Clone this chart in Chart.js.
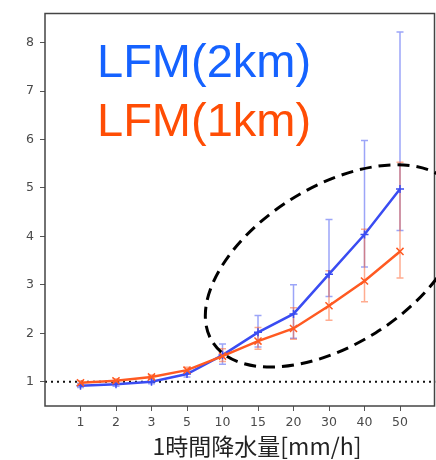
<!DOCTYPE html>
<html>
<head>
<meta charset="utf-8">
<script src="https://cdn.jsdelivr.net/npm/chart.js@4/dist/chart.umd.min.js"></script>
<style>
  html, body { margin: 0; padding: 0; background: #fff; overflow: hidden; }
  #wrap { width: 436px; height: 460px; overflow: hidden; }
</style>
</head>
<body>
<div id="wrap"><canvas id="rainChart" width="442" height="460"></canvas></div>
<script>
// rainfall classes (mm/h), drawn at index 1..10
const categories = ["1", "2", "3", "5", "10", "15", "20", "30", "40", "50"];
const yTicks = [1, 2, 3, 4, 5, 6, 7, 8];

// LFM(2km)
const blueMean = [0.92, 0.95, 1.0, 1.16, 1.55, 2.02, 2.4, 3.22, 4.04, 4.98];
const blueLow  = [0.88, 0.91, 0.96, 1.1, 1.36, 1.72, 1.9, 2.76, 3.37, 4.12];
const blueHigh = [0.97, 0.99, 1.05, 1.23, 1.78, 2.37, 3.0, 4.35, 5.98, 8.22];

// LFM(1km)
const orangeMean = [0.98, 1.02, 1.1, 1.24, 1.53, 1.84, 2.1, 2.57, 3.08, 3.69];
const orangeLow  = [0.95, 0.99, 1.06, 1.19, 1.42, 1.67, 1.88, 2.27, 2.65, 3.14];
const orangeHigh = [1.02, 1.06, 1.14, 1.3, 1.68, 2.12, 2.53, 3.29, 4.15, 5.53];

const BLUE = "#3a4cf2";
const ORANGE = "#ff5a22";

function toPoints(values) {
  return values.map((v, i) => ({ x: i + 1, y: v }));
}

// error bars, frame, ellipse, labels
const overlay = {
  id: "overlay",
  beforeDatasetsDraw(chart) {
    const ctx = chart.ctx;
    const xs = chart.scales.x;
    const ys = chart.scales.y;
    const drawBars = (low, high, color) => {
      ctx.save();
      ctx.strokeStyle = color;
      ctx.globalAlpha = 0.5;
      ctx.lineWidth = 1.5;
      low.forEach((lo, i) => {
        const px = xs.getPixelForValue(i + 1);
        const y1 = ys.getPixelForValue(lo);
        const y2 = ys.getPixelForValue(high[i]);
        ctx.beginPath();
        ctx.moveTo(px, y1); ctx.lineTo(px, y2);
        ctx.moveTo(px - 3.5, y1); ctx.lineTo(px + 3.5, y1);
        ctx.moveTo(px - 3.5, y2); ctx.lineTo(px + 3.5, y2);
        ctx.stroke();
      });
      ctx.restore();
    };
    drawBars(blueLow, blueHigh, BLUE);
    drawBars(orangeLow, orangeHigh, ORANGE);
  },
  afterDraw(chart) {
    const ctx = chart.ctx;
    const area = chart.chartArea;
    const xs = chart.scales.x;
    const ys = chart.scales.y;

    // axes frame
    ctx.save();
    ctx.strokeStyle = "#444";
    ctx.lineWidth = 1.5;
    ctx.strokeRect(area.left, area.top, area.right - area.left - 1, area.bottom - area.top);
    ctx.restore();

    // dashed ellipse around the heavy-rain classes
    ctx.save();
    ctx.strokeStyle = "#000";
    ctx.lineWidth = 3;
    ctx.setLineDash([12, 7]);
    ctx.beginPath();
    ctx.ellipse(xs.getPixelForValue(8.13), ys.getPixelForValue(3.39), 143, 79, -32 * Math.PI / 180, 0, Math.PI * 2);
    ctx.stroke();
    ctx.restore();

    // series labels
    ctx.save();
    ctx.font = '47px "Liberation Sans", Arial, sans-serif';
    ctx.textBaseline = "alphabetic";
    ctx.fillStyle = "#1562ff";
    ctx.fillText("LFM(2km)", 97, 77);
    ctx.fillStyle = "#ff4d05";
    ctx.fillText("LFM(1km)", 97, 136);
    ctx.restore();

    // x axis title
    ctx.save();
    ctx.font = '23px "Noto Sans CJK JP", "Noto Sans", sans-serif';
    ctx.fillStyle = "#222";
    ctx.textAlign = "center";
    ctx.textBaseline = "middle";
    ctx.fillText("1時間降水量[mm/h]", 257, 446);
    ctx.restore();
  }
};

const ctx = document.getElementById("rainChart").getContext("2d");
new Chart(ctx, {
  type: "scatter",
  data: {
    datasets: [
      {
        label: "LFM(1km)",
        data: toPoints(orangeMean),
        showLine: true,
        borderColor: ORANGE,
        borderWidth: 2.5,
        pointStyle: "crossRot",
        pointRadius: 5,
        pointBorderWidth: 1.5,
        pointBorderColor: ORANGE,
        order: 1
      },
      {
        label: "LFM(2km)",
        data: toPoints(blueMean),
        showLine: true,
        borderColor: BLUE,
        borderWidth: 2.5,
        pointStyle: "cross",
        pointRadius: 4,
        pointBorderWidth: 1.5,
        pointBorderColor: BLUE,
        order: 2
      },
      {
        label: "base",
        data: [{ x: 0, y: 1 }, { x: 11, y: 1 }],
        showLine: true,
        borderColor: "#111",
        borderWidth: 2,
        borderDash: [2, 4],
        pointRadius: 0,
        order: 3
      }
    ]
  },
  options: {
    responsive: false,
    animation: false,
    layout: { padding: { left: 0, right: 0, top: 10, bottom: 0 } },
    plugins: {
      legend: { display: false },
      tooltip: { enabled: false }
    },
    scales: {
      x: {
        type: "linear",
        min: 0,
        max: 11,
        afterBuildTicks: (axis) => {
          axis.ticks = categories.map((c, i) => ({ value: i + 1 }));
        },
        afterFit: (axis) => { axis.height = 54; },
        ticks: {
          callback: (value) => categories[value - 1] || "",
          color: "#4a4a4a",
          font: { family: "DejaVu Sans", size: 12.5 },
          padding: 4,
          maxRotation: 0
        },
        grid: { drawOnChartArea: false, tickLength: 5, color: "#555", tickWidth: 1 },
        border: { display: false }
      },
      y: {
        min: 0.5,
        max: 8.6,
        afterBuildTicks: (axis) => {
          axis.ticks = yTicks.map((v) => ({ value: v }));
        },
        afterFit: (axis) => { axis.width = 45; },
        ticks: {
          color: "#4a4a4a",
          font: { family: "DejaVu Sans", size: 12.5 },
          padding: 6
        },
        grid: { drawOnChartArea: false, tickLength: 5, color: "#555", tickWidth: 1 },
        border: { display: false }
      }
    }
  },
  plugins: [overlay]
});
</script>
</body>
</html>
